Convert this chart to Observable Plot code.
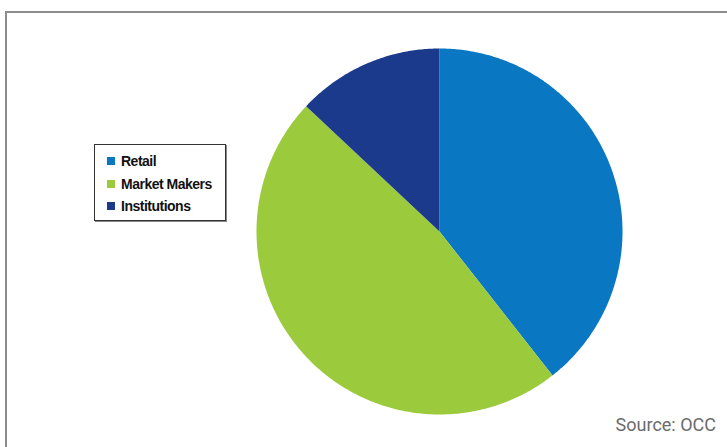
<!DOCTYPE html>
<html><head><meta charset="utf-8">
<script src="https://cdn.jsdelivr.net/npm/d3@7"></script>
<script src="https://cdn.jsdelivr.net/npm/@observablehq/plot@0.6"></script>
<style>
html,body{margin:0;padding:0;background:#fff;width:727px;height:447px;overflow:hidden;}
#wrap{position:relative;width:727px;height:447px;}
#frame{position:absolute;left:5px;top:11px;right:-5px;bottom:-5px;border-top:2px solid #8c8c8c;border-left:2px solid #8c8c8c;}
#legend{position:absolute;left:94px;top:144px;width:130px;height:75px;border:1px solid #333;box-shadow:1px 1px 0 #888;background:#fff;font-family:"Liberation Sans Narrow","Arial Narrow","Liberation Sans",sans-serif;font-weight:bold;font-size:14px;letter-spacing:-0.5px;color:#111;}
.item{position:absolute;left:12px;display:flex;align-items:center;}
.sw{width:8px;height:8px;margin-right:6px;}
#source{position:absolute;right:11px;top:414px;font-family:Roboto,sans-serif;font-size:18px;color:#6b6b6b;}
svg{position:absolute;left:0;top:0;}
</style></head>
<body><div id="wrap"><div id="frame"></div></div>
<script>
const categories = ["Retail", "Market Makers", "Institutions"];
const shares = [39.4, 47.6, 13.0];
const colors = ["#0a77c2", "#9bca3c", "#1b3a8c"];
const sourceText = "Source: OCC";

const pie = d3.pie().sort(null).value(d => d.v)(categories.map((c, i) => ({c, v: shares[i]})));
const pts = [];
for (const s of pie) {
  const n = Math.max(4, Math.ceil((s.endAngle - s.startAngle) / 0.01));
  pts.push({c: s.data.c, x: 0, y: 0});
  for (let k = 0; k <= n; k++) {
    const a = s.startAngle + (s.endAngle - s.startAngle) * k / n;
    pts.push({c: s.data.c, x: Math.sin(a), y: Math.cos(a)});
  }
  pts.push({c: s.data.c, x: 0, y: 0});
}

const chart = Plot.plot({
  width: 727, height: 447,
  marginLeft: 256, marginRight: 105, marginTop: 48, marginBottom: 33,
  x: {domain: [-1, 1], axis: null},
  y: {domain: [-1, 1], axis: null},
  color: {domain: categories, range: colors},
  style: {background: "transparent"},
  marks: [
    Plot.line(pts, {x: "x", y: "y", z: "c", fill: "c", stroke: "none", curve: "linear"})
  ]
});
const wrap = document.getElementById("wrap");
wrap.appendChild(chart);

const lg = document.createElement("div");
lg.id = "legend";
categories.forEach((c, i) => {
  const it = document.createElement("div");
  it.className = "item";
  it.style.top = (8 + i * 22.5) + "px";
  it.innerHTML = `<span class="sw" style="background:${colors[i]}"></span><span>${c}</span>`;
  lg.appendChild(it);
});
wrap.appendChild(lg);
const src = document.createElement("div");
src.id = "source";
src.textContent = sourceText;
wrap.appendChild(src);
</script>
</body></html>
